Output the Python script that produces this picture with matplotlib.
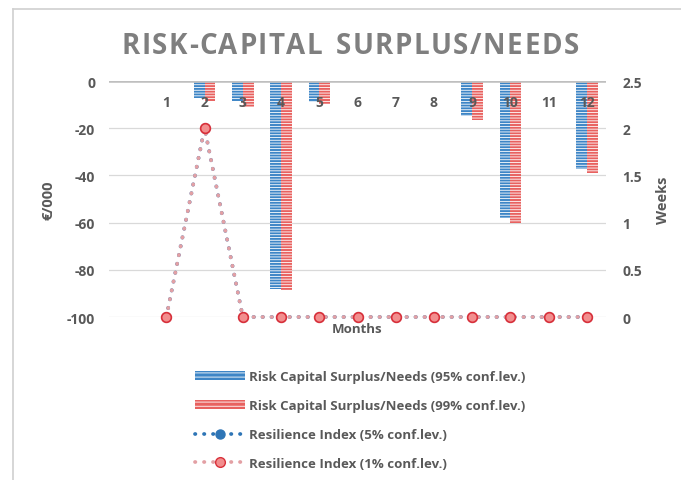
import matplotlib
matplotlib.use("Agg")
import matplotlib.pyplot as plt
from matplotlib.lines import Line2D
from matplotlib.patches import Patch
import numpy as np

plt.rcParams['font.family'] = ['Open Sans', 'DejaVu Sans']
plt.rcParams['hatch.linewidth'] = 0.6

months = [1, 2, 3, 4, 5, 6, 7, 8, 9, 10, 11, 12]
month_labels = [str(m) for m in months]
surplus_95 = [0, -7.3, -8.6, -88.1, -9.0, 0, 0, 0, -14.7, -58.0, 0, -37.3]
surplus_99 = [0, -8.3, -10.9, -88.6, -9.7, 0, 0, 0, -16.4, -60.2, -0.6, -39.1]
resil_5 = [0, 2, 0, 0, 0, 0, 0, 0, 0, 0, 0, 0]
resil_1 = [0, 2, 0, 0, 0, 0, 0, 0, 0, 0, 0, 0]
title = 'RISK-CAPITAL SURPLUS/NEEDS'

blue = '#3d85c6'
red = '#e8615f'
gray_txt = '#595959'
dot_ls = (0, (0.1, 2.3))
line_w = 2.7

fig = plt.figure(figsize=(6.81, 4.81), dpi=100)
# frame lines
fig.add_artist(Line2D([13/681, 1], [1-10/481, 1-10/481], color='#d0d0d0', lw=1.2))
fig.add_artist(Line2D([13/681, 13/681], [0, 1-10/481], color='#d0d0d0', lw=1.2))

ax = fig.add_axes([109/681, 1-318/481, (606-109)/681, (318-82)/481])
ax2 = ax.twinx()

x = np.array(months)
w = 0.28
ax.bar(x - w/2, surplus_95, width=w, color=blue, edgecolor='white', hatch='------', lw=0, zorder=3)
ax.bar(x + w/2, surplus_99, width=w, color=red, edgecolor='white', hatch='------', lw=0, zorder=3)

ax.set_ylim(-100, 0)
ax.set_xlim(-0.5, 12.5)
ax.set_yticks([0, -20, -40, -60, -80, -100])
ax.set_yticklabels(['0', '-20', '-40', '-60', '-80', '-100'])
ax.grid(axis='y', color='#d9d9d9', lw=0.9, zorder=0)
ax.axhline(0, color='#bfbfbf', lw=1.8, zorder=4)
for s in ax.spines.values():
    s.set_visible(False)
for s in ax2.spines.values():
    s.set_visible(False)
ax.tick_params(axis='both', length=0, labelsize=10, labelcolor=gray_txt, pad=10)
for t in ax.get_yticklabels():
    t.set_fontweight('bold')
ax.set_xticks([])
for m, lab in zip(months, month_labels):
    ax.text(m, -9.0, lab, ha='center', va='center', fontsize=10, fontweight='bold', color=gray_txt, zorder=5)

ax2.set_ylim(0, 2.5)
ax2.set_yticks([0, 0.5, 1, 1.5, 2, 2.5])
ax2.set_yticklabels(['0', '0.5', '1', '1.5', '2', '2.5'])
ax2.tick_params(axis='y', length=0, labelsize=10, labelcolor=gray_txt, pad=12)
for t in ax2.get_yticklabels():
    t.set_fontweight('bold')
ax2.plot(x, resil_5, ls=dot_ls, color='#2e75b6', lw=line_w, dash_capstyle='round', marker='o', ms=6.5,
         mfc='#2e75b6', mec='#2e75b6', zorder=5, clip_on=False)
ax2.plot(x, resil_1, ls=dot_ls, color='#e3a0a4', lw=line_w, dash_capstyle='round', marker='o', ms=7,
         mfc='#f28e8e', mec='#d9303a', mew=1.2, zorder=6, clip_on=False)

ax.set_ylabel('€/000', fontsize=10.5, fontweight='bold', color=gray_txt, labelpad=8)
ax2.set_ylabel('Weeks', fontsize=10.5, fontweight='bold', color=gray_txt, labelpad=10)
ax.text(0.5, -0.05, 'Months', transform=ax.transAxes, ha='center', va='center', fontsize=9.5,
        fontweight='bold', color=gray_txt)

# letter-spaced title
fig.canvas.draw()
renderer = fig.canvas.get_renderer()
tsize = 20
widths = []
for ch in title:
    t = fig.text(0, 0, ch if ch != ' ' else 'n', fontsize=tsize, fontweight='bold')
    bb = t.get_window_extent(renderer)
    widths.append(bb.width * (0.55 if ch == ' ' else 1.0))
    t.remove()
spacing = 1.5
total = sum(widths) + spacing * (len(title) - 1)
cx, cy = 350, 481 - 46
xpos = cx - total / 2
for ch, wd in zip(title, widths):
    if ch != ' ':
        fig.text(xpos / 681, cy / 481, ch, ha='left', va='center', fontsize=tsize,
                 fontweight='bold', color='#7f7f7f')
    xpos += wd + spacing

handles = [
    Patch(facecolor=blue, edgecolor='white', hatch='----', lw=0),
    Patch(facecolor=red, edgecolor='white', hatch='----', lw=0),
    Line2D([0], [0], ls=dot_ls, color='#2e75b6', lw=line_w, dash_capstyle='round', marker='o', ms=6.5,
           mfc='#2e75b6', mec='#2e75b6'),
    Line2D([0], [0], ls=dot_ls, color='#e3a0a4', lw=line_w, dash_capstyle='round', marker='o', ms=7,
           mfc='#f28e8e', mec='#d9303a'),
]
labels = ['Risk Capital Surplus/Needs (95% conf.lev.)',
          'Risk Capital Surplus/Needs (99% conf.lev.)',
          'Resilience Index (5% conf.lev.)',
          'Resilience Index (1% conf.lev.)']
leg = fig.legend(handles, labels, loc='upper left', bbox_to_anchor=(190/681, 1-366/481),
                 frameon=False, fontsize=9.5, handlelength=3.8, handleheight=0.6,
                 labelspacing=1.2, handletextpad=0.3, borderaxespad=0)
for t in leg.get_texts():
    t.set_color(gray_txt)
    t.set_fontweight('bold')

fig.savefig('out.png', dpi=100)
